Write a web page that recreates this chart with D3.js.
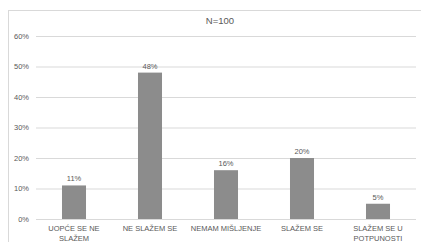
<!DOCTYPE html>
<html>
<head>
<meta charset="utf-8">
<script src="https://cdn.jsdelivr.net/npm/d3@7"></script>
<style>
  body { margin: 0; background: #fff; }
  svg text { font-family: "Liberation Sans", Arial, sans-serif; fill: #595959; }
</style>
</head>
<body>
<svg id="chart"></svg>
<script>
const categories = [["UOPĆE SE NE", "SLAŽEM"], ["NE SLAŽEM SE"], ["NEMAM MIŠLJENJE"], ["SLAŽEM SE"], ["SLAŽEM SE U", "POTPUNOSTI"]];
const values = [11, 48, 16, 20, 5];
const yTicks = [0, 10, 20, 30, 40, 50, 60];
const title = "N=100";

const width = 421, height = 242;
const margin = {top: 36, right: 5, bottom: 23, left: 36};

const svg = d3.select('#chart')
    .attr('width', width)
    .attr('height', height);

// chart area border
svg.append('rect')
    .attr('x', 8.5).attr('y', 10.5)
    .attr('width', width).attr('height', height)
    .attr('fill', 'none')
    .attr('stroke', '#d9d9d9');

const x = d3.scaleBand()
    .domain(d3.range(categories.length))
    .range([margin.left, width - margin.right]);

const y = d3.scaleLinear()
    .domain([0, 60])
    .range([height - margin.bottom, margin.top]);

const barW = x.bandwidth() * 0.316;

// gridlines
svg.append('g')
    .attr('transform', `translate(${margin.left},0)`)
    .call(d3.axisLeft(y).tickValues(yTicks).tickSize(-(width - margin.left - margin.right)).tickFormat(d => d + '%').tickPadding(7))
    .call(g => g.select('.domain').remove())
    .call(g => g.selectAll('.tick line').attr('stroke', '#d9d9d9'))
    .call(g => g.selectAll('.tick text').attr('font-size', 7.5).style('fill', '#595959'));

// bars
svg.selectAll('.bar')
    .data(values)
    .join('rect')
    .attr('class', 'bar')
    .attr('x', (d, i) => x(i) + x.bandwidth() / 2 - barW / 2)
    .attr('width', barW)
    .attr('y', d => y(d))
    .attr('height', d => y(0) - y(d))
    .attr('fill', '#8c8c8c');

// value labels
svg.selectAll('.val')
    .data(values)
    .join('text')
    .attr('class', 'val')
    .attr('x', (d, i) => x(i) + x.bandwidth() / 2)
    .attr('y', d => y(d) - 4)
    .attr('text-anchor', 'middle')
    .attr('font-size', 7.5)
    .text(d => d + '%');

// category labels
const cat = svg.selectAll('.cat')
    .data(categories)
    .join('text')
    .attr('class', 'cat')
    .attr('x', (d, i) => x(i) + x.bandwidth() / 2)
    .attr('y', height - margin.bottom + 12)
    .attr('text-anchor', 'middle')
    .attr('font-size', 7.5);
cat.selectAll('tspan')
    .data(d => d)
    .join('tspan')
    .attr('x', function() { return d3.select(this.parentNode).attr('x'); })
    .attr('dy', (d, i) => i === 0 ? 0 : 9.5)
    .text(d => d);

// title
svg.append('text')
    .attr('x', 220)
    .attr('y', 23.5)
    .attr('text-anchor', 'middle')
    .attr('font-size', 9.5)
    .text(title);
</script>
</body>
</html>
